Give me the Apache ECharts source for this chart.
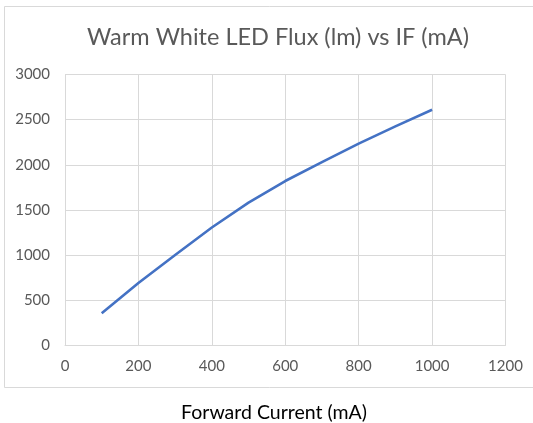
<!DOCTYPE html>
<html>
<head>
<meta charset="utf-8">
<script src="https://cdn.jsdelivr.net/npm/echarts@6/dist/echarts.min.js"></script>
<style>
html,body{margin:0;padding:0;background:#fff;}
#main{width:533px;height:423px;}
</style>
</head>
<body>
<div id="main"></div>
<script>
const titleText = 'Warm White LED Flux (lm) vs IF (mA)';
const xAxisTitle = 'Forward Current (mA)';
const currents = [100, 200, 300, 400, 500, 600, 700, 800, 900, 1000];
const flux = [355, 690, 1000, 1305, 1580, 1820, 2030, 2235, 2425, 2610];

const chart = echarts.init(document.getElementById('main'), null, {renderer: 'canvas'});
const txt = '#595959';
const gridC = '#d9d9d9';
const font = 'Lato, "Open Sans", sans-serif';

chart.setOption({
  animation: false,
  backgroundColor: '#fff',
  title: {
    text: titleText,
    left: 273,
    top: 20,
    textAlign: 'center',
    textStyle: {color: txt, fontSize: 23.5, fontWeight: 'normal', fontFamily: font}
  },
  graphic: [
    {type: 'rect', shape: {x: 4.5, y: 6.5, width: 560, height: 381}, style: {fill: 'none', stroke: gridC, lineWidth: 1}, z: -1},
    {type: 'text', x: 274, y: 413, style: {text: xAxisTitle, fill: '#000', fontSize: 19.5, fontFamily: font, align: 'center', verticalAlign: 'middle'}}
  ],
  grid: {left: 65, right: 27.5, top: 74.5, bottom: 77.7, containLabel: false},
  xAxis: {
    type: 'value', min: 0, max: 1200, interval: 200,
    axisLine: {show: true, lineStyle: {color: gridC}},
    axisTick: {show: false},
    splitLine: {show: true, lineStyle: {color: gridC, width: 1}},
    axisLabel: {color: txt, fontSize: 15, fontFamily: font, margin: 13, formatter: v => String(v)}
  },
  yAxis: {
    type: 'value', min: 0, max: 3000, interval: 500,
    axisLine: {show: false},
    axisTick: {show: false},
    splitLine: {show: true, lineStyle: {color: gridC, width: 1}},
    axisLabel: {color: txt, fontSize: 15, fontFamily: font, margin: 15, formatter: v => String(v)}
  },
  series: [{
    type: 'line',
    data: currents.map((c, i) => [c, flux[i]]),
    showSymbol: false,
    symbol: 'none',
    lineStyle: {color: '#4472C4', width: 2.6},
    smooth: false
  }]
});
</script>
</body>
</html>
